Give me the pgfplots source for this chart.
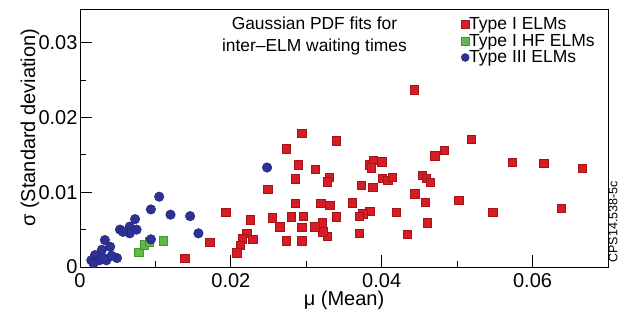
\documentclass[border=0pt]{standalone}
\usepackage{pgfplots}
\pgfplotsset{compat=1.18}
\usepackage{fontspec}
\setmainfont{Liberation Sans}
\definecolor{redF}{RGB}{214,28,36}
\definecolor{redD}{RGB}{165,18,24}
\definecolor{greenF}{RGB}{96,186,72}
\definecolor{greenD}{RGB}{70,150,50}
\definecolor{blueF}{RGB}{46,50,150}
\definecolor{blueD}{RGB}{30,32,110}
\begin{document}
\begin{tikzpicture}
\useasboundingbox (-80pt,-53pt) rectangle (539pt,267pt);
\begin{axis}[
  scale only axis,
  width=528pt, height=258pt,
  xmin=0, xmax=0.07, ymin=0, ymax=0.0345,
  clip=false,
  axis line style={line width=0.8pt},
  tick align=inside, tick pos=left,
  major tick length=12pt, minor tick length=6pt,
  tick style={line width=0.8pt, black},
  xtick={0,0.02,0.04,0.06}, minor xtick={0.01,0.03,0.05},
  ytick={0,0.01,0.02,0.03}, minor ytick={0.005,0.015,0.025},
  xticklabels={0,0.02,0.04,0.06},
  yticklabels={0,0.01,0.02,0.03},
  scaled ticks=false,
  /pgf/number format/assume math mode=true,
  tick label style={font=\fontsize{20}{24}\selectfont},
  xticklabel style={yshift=-3pt},
  yticklabel style={xshift=1pt},
  xlabel={μ (Mean)},
  ylabel={σ (Standard deviation)},
  label style={font=\fontsize{20}{24}\selectfont},
  xlabel style={at={(axis description cs:0.5,-0.13)}, anchor=center},
  ylabel style={at={(axis description cs:-0.095,0.54)}, anchor=center},
  legend style={draw=none, fill=none, at={(axis description cs:0.716,0.975)}, anchor=north west,
    font=\fontsize{17.5}{18}\selectfont, row sep=3pt, column sep=0pt,
    nodes={inner sep=0pt, anchor=west}},
  legend cell align=left,
  legend image code/.code={\draw[#1, mark size=4pt] plot coordinates {(4pt,0pt)};},
]
\addplot[only marks, mark=square*, mark size=4.2pt, mark options={fill=redF, draw=redD, line width=0.4pt}] coordinates {
(0.0443,0.0237) (0.0294,0.0179) (0.0340,0.0169) (0.0273,0.0158) (0.0519,0.0171)
(0.0470,0.0149) (0.0483,0.0156) (0.0289,0.0137) (0.0312,0.0131) (0.0285,0.0118)
(0.0330,0.0120) (0.0328,0.0114) (0.0384,0.0137) (0.0389,0.0143) (0.0400,0.0141)
(0.0386,0.0133) (0.0401,0.0119) (0.0408,0.0116) (0.0414,0.0120) (0.0373,0.0109)
(0.0388,0.0107) (0.0454,0.0123) (0.0459,0.0119) (0.0464,0.0113) (0.0573,0.0140)
(0.0615,0.0139) (0.0666,0.0132) (0.0638,0.0079) (0.0547,0.0073) (0.0502,0.0089)
(0.0444,0.0098) (0.0458,0.0087) (0.0460,0.0059) (0.0434,0.0044) (0.0419,0.0073)
(0.0384,0.0075) (0.0375,0.0071) (0.0370,0.0068) (0.0370,0.0045) (0.0361,0.0086)
(0.0340,0.0067) (0.0331,0.0083) (0.0319,0.0085) (0.0321,0.0059) (0.0328,0.0041)
(0.0322,0.0047) (0.0311,0.0054) (0.0296,0.0068) (0.0294,0.0053) (0.0294,0.0035)
(0.0280,0.0067) (0.0285,0.0085) (0.0273,0.0035) (0.0265,0.0054) (0.0255,0.0066)
(0.0249,0.0104) (0.0226,0.0063) (0.0221,0.0045) (0.0229,0.0037) (0.0215,0.0038)
(0.0212,0.0029) (0.0208,0.0019) (0.0193,0.0073) (0.0172,0.0033) (0.0139,0.0012)
};
\addlegendentry{Type I ELMs}
\addplot[only marks, mark=square*, mark size=4.2pt, mark options={fill=greenF, draw=greenD, line width=0.4pt}] coordinates {
(0.0078,0.0020) (0.0085,0.0030) (0.0092,0.0034) (0.0110,0.0035)
};
\addlegendentry{Type I HF ELMs}
\addplot[only marks, mark=*, mark size=4.8pt, mark options={fill=blueF, draw=blueD, line width=0.4pt}] coordinates {
(0.0248,0.0133) (0.0105,0.0094) (0.0094,0.0077) (0.0120,0.0070) (0.0146,0.0068)
(0.0157,0.0045) (0.0073,0.0064) (0.0066,0.0054) (0.0053,0.0050) (0.0075,0.0050)
(0.0066,0.0045) (0.0057,0.0047) (0.0094,0.0037) (0.0033,0.0036) (0.0040,0.0027)
(0.0029,0.0023) (0.0049,0.0012) (0.0020,0.0016) (0.0015,0.0009) (0.0026,0.0009)
(0.0035,0.0009) (0.0042,0.0015) (0.0031,0.0012) (0.0018,0.0005)
};
\addlegendentry{Type III ELMs}
\node[align=center, font=\fontsize{17.4}{21.5}\selectfont, anchor=center] at (axis description cs:0.444,0.895) {Gaussian PDF fits for\\inter\textendash ELM waiting times};
\node[rotate=90, font=\fontsize{12.5}{13}\selectfont, anchor=center] at (axis description cs:1.0095,0.175) {CPS14.538-5c};
\end{axis}
\end{tikzpicture}
\end{document}
